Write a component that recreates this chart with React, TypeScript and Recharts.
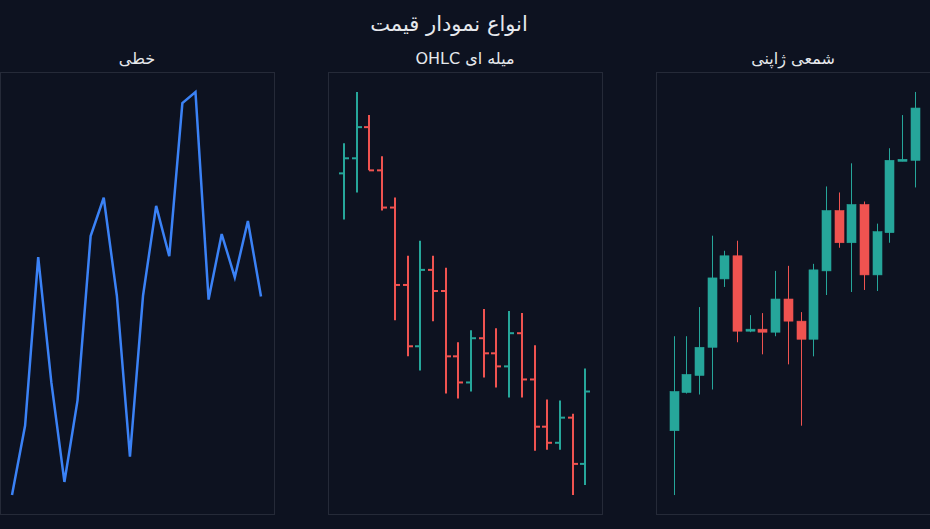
import { ComposedChart, LineChart, Line, Bar, XAxis, YAxis } from "recharts";

// shared categories (trading days)
const days = ["1", "2", "3", "4", "5", "6", "7", "8", "9", "10", "11", "12", "13", "14", "15", "16", "17", "18", "19", "20"];

// line chart — close prices
const lineClose = [100.0, 106.9, 123.6, 111.2, 101.3, 109.4, 125.7, 129.5, 119.8, 103.8, 119.8, 128.7, 123.7, 138.9, 140.0, 119.4, 125.9, 121.6, 127.2, 119.7];

// OHLC bars
const ohlcOpen = [132.0, 133.5, 136.6, 132.3, 128.6, 120.9, 114.8, 122.4, 120.3, 113.8, 111.2, 115.6, 114.1, 112.8, 116.1, 111.5, 106.8, 105.2, 107.7, 103.1];
const ohlcHigh = [135.0, 140.1, 137.8, 133.7, 129.6, 123.8, 125.3, 123.8, 122.6, 115.2, 116.4, 118.5, 116.6, 118.3, 118.1, 114.9, 109.5, 109.4, 108.1, 112.6];
const ohlcLow = [127.4, 130.1, 132.3, 128.3, 117.4, 113.8, 112.4, 117.3, 110.1, 109.6, 110.3, 111.7, 110.7, 109.7, 109.7, 104.4, 104.5, 104.5, 100.0, 101.0];
const ohlcClose = [133.5, 136.6, 132.3, 128.6, 120.9, 114.8, 122.4, 120.3, 113.8, 111.2, 115.6, 114.1, 112.8, 116.1, 111.5, 106.8, 105.2, 107.7, 103.1, 110.3];

// candlesticks
const candleOpen = [106.3, 110.1, 111.8, 114.6, 121.4, 123.7, 116.2, 116.4, 116.1, 119.4, 117.2, 115.4, 122.2, 128.2, 125.0, 128.8, 121.8, 126.0, 133.1, 133.2];
const candleHigh = [115.7, 115.7, 118.6, 125.7, 124.2, 125.2, 117.8, 118.0, 122.2, 122.7, 118.1, 122.9, 130.6, 130.0, 132.9, 129.1, 126.9, 134.4, 137.7, 140.0];
const candleLow = [99.9, 110.0, 109.9, 110.4, 120.6, 115.1, 116.1, 113.9, 115.7, 112.9, 106.8, 113.7, 119.8, 124.5, 120.1, 120.3, 120.2, 125.0, 133.1, 130.5];
const candleClose = [110.2, 111.9, 114.6, 121.5, 123.7, 116.2, 116.4, 116.1, 119.4, 117.2, 115.4, 122.3, 128.2, 125.0, 128.8, 121.8, 126.1, 133.2, 133.3, 138.4];

const BG = "#0d1220";
const BORDER = "#252a38";
const TEXT = "#e6e8ec";
const UP = "#26a69a";
const DOWN = "#ef5350";
const LINE = "#3b82f6";
const FONT = "'DejaVu Sans', sans-serif";

const lineData = days.map((d, i) => ({ day: d, close: lineClose[i] }));
const ohlcData = days.map((d, i) => ({ day: d, open: ohlcOpen[i], high: ohlcHigh[i], low: ohlcLow[i], close: ohlcClose[i] }));
const candleData = days.map((d, i) => ({ day: d, open: candleOpen[i], high: candleHigh[i], low: candleLow[i], close: candleClose[i] }));

// same autorange padding as the original (about 4.7% each side)
function paddedDomain(lo: number[], hi: number[]): [number, number] {
  const min = Math.min(...lo);
  const max = Math.max(...hi);
  const pad = (max - min) * 0.047;
  return [min - pad, max + pad];
}

const W = 273;
const H = 441;

// maps a price inside the [low, high] bar the library drew
function priceToPixel(props: any) {
  const { y, height, payload } = props;
  const top = Math.min(y, y + height);
  const h = Math.abs(height);
  const span = payload.high - payload.low || 1;
  return { top, h, py: (v: number) => top + ((payload.high - v) / span) * h };
}

const OhlcShape = (props: any) => {
  const { x, width, payload } = props;
  const { top, h, py } = priceToPixel(props);
  const cx = Math.round(x + width / 2);
  const color = payload.close >= payload.open ? UP : DOWN;
  return (
    <g stroke={color} strokeWidth={2}>
      <line x1={cx} x2={cx} y1={top} y2={top + h} />
      <line x1={cx - 5} x2={cx} y1={py(payload.open)} y2={py(payload.open)} />
      <line x1={cx} x2={cx + 5} y1={py(payload.close)} y2={py(payload.close)} />
    </g>
  );
};

const CandleShape = (props: any) => {
  const { x, width, payload } = props;
  const { top, h, py } = priceToPixel(props);
  const cx = Math.round(x + width / 2) + 0.5;
  const color = payload.close >= payload.open ? UP : DOWN;
  const bTop = py(Math.max(payload.open, payload.close));
  const bBot = py(Math.min(payload.open, payload.close));
  const bh = Math.max(bBot - bTop, 2);
  return (
    <g>
      <line x1={cx} x2={cx} y1={top} y2={top + h} stroke={color} strokeWidth={1} />
      <rect x={cx - width / 2} y={bTop} width={width} height={bh} fill={color} stroke={color} strokeWidth={0.6} />
    </g>
  );
};

function Panel({ left, title, children }: { left: number; title: string; children: any }) {
  return (
    <>
      <div
        style={{
          position: "absolute",
          left: left + 137,
          top: 58,
          transform: "translate(-50%, -50%)",
          fontSize: 16,
          color: TEXT,
          direction: "rtl",
          whiteSpace: "nowrap",
        }}
      >
        {title}
      </div>
      <div
        style={{
          position: "absolute",
          left,
          top: 72,
          width: 275,
          height: 443,
          boxSizing: "border-box",
          border: `1px solid ${BORDER}`,
        }}
      >
        {children}
      </div>
    </>
  );
}

export default function App() {
  const lineDomain = paddedDomain(lineClose, lineClose);
  const ohlcDomain = paddedDomain(ohlcLow, ohlcHigh);
  const candleDomain = paddedDomain(candleLow, candleHigh);

  return (
    <div
      style={{
        position: "fixed",
        left: 0,
        top: 0,
        width: 930,
        height: 529,
        background: BG,
        fontFamily: FONT,
        overflow: "hidden",
      }}
    >
      <div
        style={{
          position: "absolute",
          left: 449,
          top: 24,
          transform: "translate(-50%, -50%)",
          fontSize: 21,
          color: TEXT,
          direction: "rtl",
          whiteSpace: "nowrap",
        }}
      >
        انواع نمودار قیمت
      </div>

      <Panel left={0} title="خطی">
        <LineChart width={W} height={H} data={lineData} margin={{ top: 0, right: 0, bottom: 0, left: 0 }}>
          <XAxis dataKey="day" hide padding={{ left: 11, right: 13 }} />
          <YAxis hide type="number" domain={lineDomain} allowDataOverflow />
          <Line
            type="linear"
            dataKey="close"
            stroke={LINE}
            strokeWidth={2.5}
            dot={false}
            activeDot={false}
            isAnimationActive={false}
          />
        </LineChart>
      </Panel>

      <Panel left={328} title="میله ای OHLC">
        <ComposedChart width={W} height={H} data={ohlcData} margin={{ top: 0, right: 0, bottom: 0, left: 0 }}>
          <XAxis dataKey="day" hide padding={{ left: 9, right: 10 }} />
          <YAxis hide type="number" domain={ohlcDomain} allowDataOverflow />
          <Bar
            dataKey={(d: any) => [d.low, d.high]}
            barSize={10}
            shape={OhlcShape}
            isAnimationActive={false}
          />
        </ComposedChart>
      </Panel>

      <Panel left={656} title="شمعی ژاپنی">
        <ComposedChart width={W} height={H} data={candleData} margin={{ top: 0, right: 0, bottom: 0, left: 0 }}>
          <XAxis dataKey="day" hide padding={{ left: 10, right: 9 }} />
          <YAxis hide type="number" domain={candleDomain} allowDataOverflow />
          <Bar
            dataKey={(d: any) => [d.low, d.high]}
            barSize={9}
            shape={CandleShape}
            isAnimationActive={false}
          />
        </ComposedChart>
      </Panel>
    </div>
  );
}
